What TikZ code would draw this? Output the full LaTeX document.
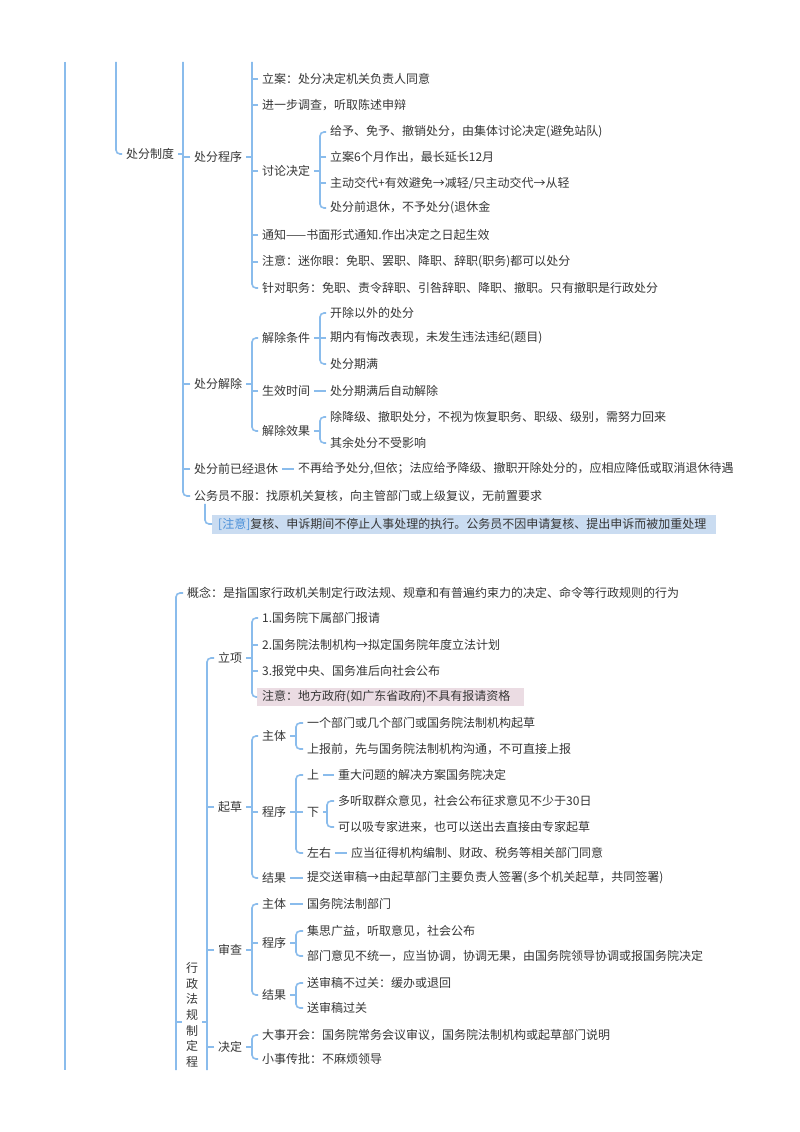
\documentclass[tikz,border=0pt]{standalone}
\usepackage{fontspec}
\setmainfont{Noto Sans CJK SC}
\usetikzlibrary{calc}
\definecolor{linec}{HTML}{8ABCEC}
\definecolor{textc}{HTML}{363636}
\definecolor{noteblue}{HTML}{4A90D9}
\definecolor{bluebg}{HTML}{CADCF1}
\definecolor{pinkbg}{HTML}{EBDCE3}
\begin{document}
\begin{tikzpicture}[x=1pt,y=-1pt,
  lbl/.style={anchor=west, inner xsep=4pt, inner ysep=2pt, text=textc, font=\fontsize{12}{14}\selectfont},
  vert/.style={anchor=center, align=center, font=\fontsize{12}{15.7}\selectfont},
  bluenote/.style={fill=bluebg, inner xsep=6pt, minimum height=19pt},
  pinknote/.style={fill=pinkbg, inner xsep=5pt, minimum height=18pt},
  cn/.style={draw=linec, line width=1.6pt},
  br/.style={cn, rounded corners=4pt},
]
\useasboundingbox (0,0) rectangle (800,1132);
\fill[white] (0,0) rectangle (800,1132);

% bracket columns and free ends
\coordinate (top) at (0,62);
\coordinate (bot) at (0,1070);
\coordinate (xA) at (65,0);
\coordinate (xB) at (116,0);
\coordinate (xC) at (183,0);
\coordinate (xD) at (252,0);
\coordinate (xE) at (320,0);
\coordinate (xG) at (176,0);
\coordinate (xH) at (207,0);
\coordinate (xI) at (296,0);
\coordinate (xJ) at (327,0);

% ---------------- section 1 ----------------
\node[lbl] (cfzd) at (122,154) {处分制度};
\node[lbl] (cfcx) at (190,157) {处分程序};
\node[lbl] (la)   at (258,79)  {立案：处分决定机关负责人同意};
\node[lbl] (jyb)  at (258,105) {进一步调查，听取陈述申辩};
\node[lbl] (tljd) at (258,171) {讨论决定};
\node[lbl] (tl1)  at (326,132) {给予、免予、撤销处分，由集体讨论决定(避免站队)};
\node[lbl] (tl2)  at (326,157) {立案6个月作出，最长延长12月};
\node[lbl] (tl3)  at (326,183) {主动交代+有效避免→减轻/只主动交代→从轻};
\node[lbl] (tl4)  at (326,208) {处分前退休，不予处分(退休金};
\node[lbl] (tz)   at (258,235) {通知——书面形式通知.作出决定之日起生效};
\node[lbl] (zy)   at (258,262) {注意：迷你眼：免职、罢职、降职、辞职(职务)都可以处分};
\node[lbl] (zdzw) at (258,288) {针对职务：免职、责令辞职、引咎辞职、降职、撤职。只有撤职是行政处分};

\node[lbl] (cfjc) at (190,384) {处分解除};
\node[lbl] (jctj) at (258,338) {解除条件};
\node[lbl] (tj1)  at (326,313) {开除以外的处分};
\node[lbl] (tj2)  at (326,338) {期内有悔改表现，未发生违法违纪(题目)};
\node[lbl] (tj3)  at (326,364) {处分期满};
\node[lbl] (sxsj) at (258,391) {生效时间};
\node[lbl] (sx1)  at (326,391) {处分期满后自动解除};
\node[lbl] (jcxg) at (258,431) {解除效果};
\node[lbl] (xg1)  at (326,417) {除降级、撤职处分，不视为恢复职务、职级、级别，需努力回来};
\node[lbl] (xg2)  at (326,443) {其余处分不受影响};

\node[lbl] (txq)  at (190,469) {处分前已经退休};
\node[lbl] (tx1)  at (294,469) {不再给予处分,但依；法应给予降级、撤职开除处分的，应相应降低或取消退休待遇};
\node[lbl] (gwy)  at (190,496) {公务员不服：找原机关复核，向主管部门或上级复议，无前置要求};
\node[lbl,bluenote] (zy2) at (212,524) {{\color{noteblue}[注意]}复核、申诉期间不停止人事处理的执行。公务员不因申请复核、提出申诉而被加重处理\rule{4pt}{0pt}};

\draw[cn] (top -| xA) -- (bot -| xA);
\draw[br] (top -| xB) |- (cfzd.west);
\draw[cn] (cfzd.east) -- (cfzd.east -| xC);
\draw[br] (top -| xC) |- (gwy.west);
\foreach \n in {cfcx,cfjc,txq} \draw[cn] (\n.west) -- (\n.west -| xC);

\draw[cn] (cfcx.east) -- (cfcx.east -| xD);
\draw[br] (top -| xD) |- (zdzw.west);
\foreach \n in {la,jyb,tljd,tz,zy} \draw[cn] (\n.west) -- (\n.west -| xD);

\draw[cn] (tljd.east) -- (tljd.east -| xE);
\draw[br] (tl1.west) -| (tl4.west -| xE) -- (tl4.west);
\foreach \n in {tl2,tl3} \draw[cn] (\n.west) -- (\n.west -| xE);

\draw[cn] (cfjc.east) -- (cfjc.east -| xD);
\draw[br] (jctj.west) -| (jcxg.west -| xD) -- (jcxg.west);
\draw[cn] (sxsj.west) -- (sxsj.west -| xD);

\draw[cn] (jctj.east) -- (jctj.east -| xE);
\draw[br] (tj1.west) -| (tj3.west -| xE) -- (tj3.west);
\draw[cn] (tj2.west) -- (tj2.west -| xE);
\draw[cn] (sxsj.east) -- (sx1.west);
\draw[cn] (jcxg.east) -- (jcxg.east -| xE);
\draw[br] (xg1.west) -| (xg2.west -| xE) -- (xg2.west);

\draw[cn] (txq.east) -- (tx1.west);
\draw[br] ([xshift=15pt]gwy.south west) |- (zy2.west);

% ---------------- section 2 ----------------
\node[lbl] (gn) at (183,593) {概念：是指国家行政机关制定行政法规、规章和有普遍约束力的决定、命令等行政规则的行为};
\node[lbl,vert] (xzfg) at (192,1015) {行\\政\\法\\规\\制\\定\\程};
\coordinate (Vl) at ([yshift=-7pt]xzfg.west);
\coordinate (Vr) at ([yshift=-7pt]xzfg.east);

\node[lbl] (lx)  at (214,658) {立项};
\node[lbl] (lx1) at (258,618) {1.国务院下属部门报请};
\node[lbl] (lx2) at (258,645) {2.国务院法制机构→拟定国务院年度立法计划};
\node[lbl] (lx3) at (258,671) {3.报党中央、国务准后向社会公布};
\node[lbl,pinknote] (lx4) at (257,697) {注意：地方政府(如广东省政府)不具有报请资格\rule{9pt}{0pt}};

\node[lbl] (qc)   at (214,807) {起草};
\node[lbl] (qczt) at (258,736) {主体};
\node[lbl] (zt1)  at (303,723) {一个部门或几个部门或国务院法制机构起草};
\node[lbl] (zt2)  at (303,749) {上报前，先与国务院法制机构沟通，不可直接上报};
\node[lbl] (qccx) at (258,812) {程序};
\node[lbl] (s)    at (303,775) {上};
\node[lbl] (s1)   at (334,775) {重大问题的解决方案国务院决定};
\node[lbl] (x)    at (303,812) {下};
\node[lbl] (x1)   at (334,801) {多听取群众意见，社会公布征求意见不少于30日};
\node[lbl] (x2)   at (334,827) {可以吸专家进来，也可以送出去直接由专家起草};
\node[lbl] (zyy)  at (303,853) {左右};
\node[lbl] (zyy1) at (347,853) {应当征得机构编制、财政、税务等相关部门同意};
\node[lbl] (qcjg) at (258,878) {结果};
\node[lbl] (jg1)  at (303,878) {提交送审稿→由起草部门主要负责人签署(多个机关起草，共同签署)};

\node[lbl] (sc)    at (214,950) {审查};
\node[lbl] (sczt)  at (258,904) {主体};
\node[lbl] (sczt1) at (303,904) {国务院法制部门};
\node[lbl] (sccx)  at (258,943) {程序};
\node[lbl] (cx1)   at (303,931) {集思广益，听取意见，社会公布};
\node[lbl] (cx2)   at (303,956) {部门意见不统一，应当协调，协调无果，由国务院领导协调或报国务院决定};
\node[lbl] (scjg)  at (258,995) {结果};
\node[lbl] (jg21)  at (303,983) {送审稿不过关：缓办或退回};
\node[lbl] (jg22)  at (303,1008) {送审稿过关};

\node[lbl] (jd)  at (214,1047) {决定};
\node[lbl] (jd1) at (258,1035) {大事开会：国务院常务会议审议，国务院法制机构或起草部门说明};
\node[lbl] (jd2) at (258,1059) {小事传批：不麻烦领导};

\draw[br] (gn.west) -| (bot -| xG);
\draw[cn] (Vl -| xG) -- (Vl);
\draw[cn] (Vr) -- (Vr -| xH);
\draw[br] (lx.west) -| (bot -| xH);
\foreach \n in {qc,sc,jd} \draw[cn] (\n.west) -- (\n.west -| xH);

\draw[cn] (lx.east) -- (lx.east -| xD);
\draw[br] (lx1.west) -| (lx4.west -| xD) -- (lx4.west);
\foreach \n in {lx2,lx3} \draw[cn] (\n.west) -- (\n.west -| xD);

\draw[cn] (qc.east) -- (qc.east -| xD);
\draw[br] (qczt.west) -| (qcjg.west -| xD) -- (qcjg.west);
\draw[cn] (qccx.west) -- (qccx.west -| xD);
\draw[cn] (qczt.east) -- (qczt.east -| xI);
\draw[br] (zt1.west) -| (zt2.west -| xI) -- (zt2.west);
\draw[cn] (qccx.east) -- (qccx.east -| xI);
\draw[br] (s.west) -| (zyy.west -| xI) -- (zyy.west);
\draw[cn] (x.west) -- (x.west -| xI);
\draw[cn] (s.east) -- (s1.west);
\draw[cn] (x.east) -- (x.east -| xJ);
\draw[br] (x1.west) -| (x2.west -| xJ) -- (x2.west);
\draw[cn] (zyy.east) -- (zyy1.west);
\draw[cn] (qcjg.east) -- (jg1.west);

\draw[cn] (sc.east) -- (sc.east -| xD);
\draw[br] (sczt.west) -| (scjg.west -| xD) -- (scjg.west);
\draw[cn] (sccx.west) -- (sccx.west -| xD);
\draw[cn] (sczt.east) -- (sczt1.west);
\draw[cn] (sccx.east) -- (sccx.east -| xI);
\draw[br] (cx1.west) -| (cx2.west -| xI) -- (cx2.west);
\draw[cn] (scjg.east) -- (scjg.east -| xI);
\draw[br] (jg21.west) -| (jg22.west -| xI) -- (jg22.west);

\draw[cn] (jd.east) -- (jd.east -| xD);
\draw[br] (jd1.west) -| (jd2.west -| xD) -- (jd2.west);
\end{tikzpicture}
\end{document}
